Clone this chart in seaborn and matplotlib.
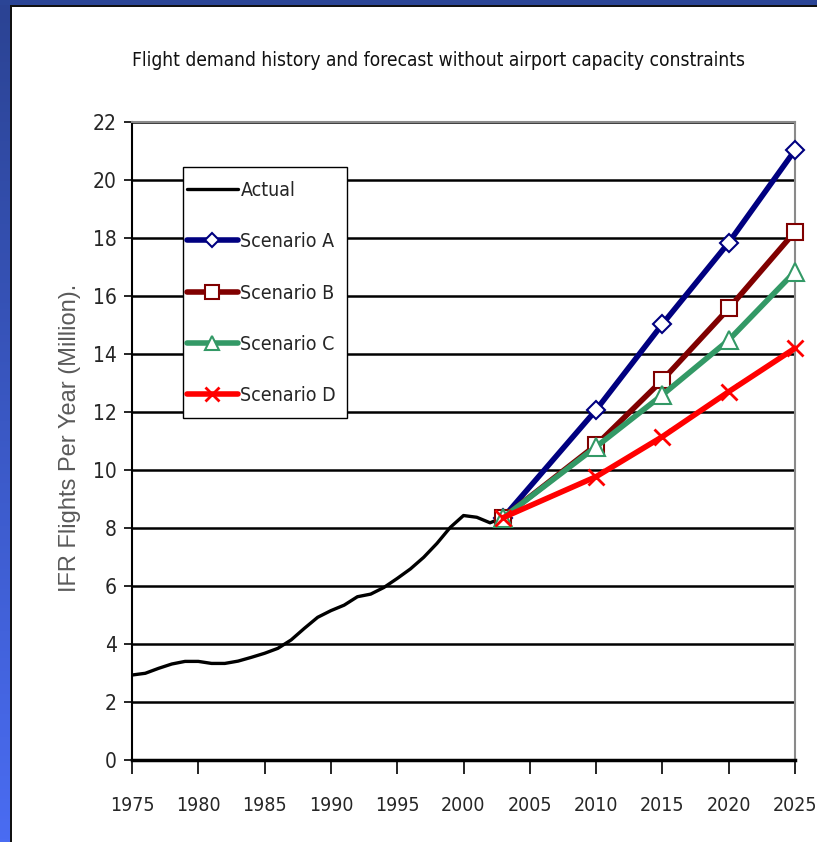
import numpy as np
import pandas as pd
import matplotlib
matplotlib.use("Agg")
import matplotlib.pyplot as plt
import seaborn as sns
from matplotlib.patches import Rectangle
from matplotlib.colors import LinearSegmentedColormap

# Historical IFR flights (millions per year)
actual_years = list(range(1975, 2004))
actual_flights = [2.93, 2.99, 3.16, 3.31, 3.40, 3.40, 3.33, 3.33, 3.41, 3.54,
                  3.68, 3.85, 4.14, 4.54, 4.92, 5.15, 5.34, 5.63, 5.72, 5.95,
                  6.26, 6.59, 6.99, 7.47, 8.02, 8.43, 8.37, 8.18, 8.36]

# Forecast scenarios
scenario_years = [2003, 2010, 2015, 2020, 2025]
scenario_a = [8.36, 12.07, 15.03, 17.84, 21.03]
scenario_b = [8.36, 10.86, 13.10, 15.57, 18.22]
scenario_c = [8.36, 10.80, 12.59, 14.48, 16.84]
scenario_d = [8.36, 9.77, 11.15, 12.70, 14.20]

x_ticks = list(range(1975, 2030, 5))
y_ticks = list(range(0, 24, 2))

title = "Flight demand history and forecast without airport capacity constraints"
y_label = "IFR Flights Per Year (Million)."

sns.set_style("white")
plt.rcParams["font.family"] = ["DejaVu Sans"]
plt.rcParams["font.stretch"] = "condensed"

W, H = 817, 842
fig = plt.figure(figsize=(W / 100, H / 100), dpi=100)
fig.patch.set_facecolor("white")


def px_fig(x, y):
    """Pixel position (from top-left) to figure fraction."""
    return x / W, 1 - y / H


# Blue slide frame: gradient strip on the left, dark band on top
cmap = LinearSegmentedColormap.from_list("frame", ["#2b4393", "#3a58c4", "#4a6cf2"])
frame_ax = fig.add_axes([0, 0, 10 / W, 1])
frame_ax.imshow(np.linspace(0, 1, 256).reshape(-1, 1), aspect="auto", cmap=cmap)
frame_ax.set_axis_off()
fig.add_artist(Rectangle((0, 1 - 5 / H), 1, 5 / H, transform=fig.transFigure,
                         facecolor="#2b4596", edgecolor="none", zorder=5))
fig.add_artist(Rectangle((10 / W, 0), 1.5 / W, 1 - 5 / H, transform=fig.transFigure,
                         facecolor="#111111", edgecolor="none", zorder=5))
fig.add_artist(Rectangle((10 / W, 1 - 6.5 / H), 1 - 10 / W, 1.5 / H, transform=fig.transFigure,
                         facecolor="#111111", edgecolor="none", zorder=5))

# Plot area
AX_L, AX_R, AX_T, AX_B = 132, 795, 122, 760
ax = fig.add_axes([AX_L / W, (H - AX_B) / H, (AX_R - AX_L) / W, (AX_B - AX_T) / H])
ax.set_facecolor("white")


def px_ax(x, y):
    """Pixel position (from top-left) to axes fraction."""
    return (x - AX_L) / (AX_R - AX_L), (AX_B - y) / (AX_B - AX_T)


sns.lineplot(x=actual_years, y=actual_flights, ax=ax, color="black",
             linewidth=2.4, label="Actual", zorder=4)

series = [
    ("Scenario A", scenario_a, "#000080", "D", 9, 1.5),
    ("Scenario B", scenario_b, "#800000", "s", 12, 1.5),
    ("Scenario C", scenario_c, "#339966", "^", 13, 1.5),
    ("Scenario D", scenario_d, "#ff0000", "x", 12, 2.0),
]
for name, vals, col, mk, ms, mew in series:
    sns.lineplot(x=scenario_years, y=vals, ax=ax, color=col, linewidth=4.0,
                 marker=mk, markersize=ms, markerfacecolor="white",
                 markeredgecolor=col, markeredgewidth=mew, label=name,
                 clip_on=False, zorder=5)

ax.set_xlim(1975, 2025)
ax.set_ylim(0, 22)
ax.set_xticks(x_ticks)
ax.set_yticks(y_ticks)
ax.set_xticklabels([str(t) for t in x_ticks], fontsize=14)
ax.set_yticklabels([str(t) for t in y_ticks], fontsize=15)

# Horizontal gridlines
ax.yaxis.grid(True, color="black", linewidth=1.8)
ax.xaxis.grid(False)
ax.set_axisbelow(True)

for side in ("top", "right"):
    ax.spines[side].set_color("#8a8a8a")
    ax.spines[side].set_linewidth(1.5)
ax.spines["left"].set_color("black")
ax.spines["left"].set_linewidth(1.5)
ax.spines["bottom"].set_color("black")
ax.spines["bottom"].set_linewidth(2.5)

ax.tick_params(axis="x", direction="out", length=10, width=1.2, color="black",
               pad=16, bottom=True)
ax.tick_params(axis="y", direction="out", length=6, width=1.2, color="black",
               pad=5, left=True)
ax.set_xlabel("")
ax.set_ylabel("")

# Axis title and chart title
fig.text(*px_fig(70, 438), y_label, rotation=90, ha="center", va="center",
         fontsize=17, color="#5a5a5a", family=["Liberation Sans", "DejaVu Sans"],
         fontstretch="normal")
fig.text(*px_fig(438, 60), title, ha="center", va="center", fontsize=13.8,
         color="#111111")

# Legend: box drawn separately so the padding can differ per side
bx0, by0 = px_ax(183, 418)
bx1, by1 = px_ax(347, 167)
ax.add_patch(Rectangle((bx0, by0), bx1 - bx0, by1 - by0, transform=ax.transAxes,
                       facecolor="white", edgecolor="black", linewidth=1.0,
                       zorder=6, clip_on=False))
leg = ax.legend(loc="upper left", bbox_to_anchor=px_ax(187, 181),
                fontsize=14, frameon=False, handlelength=2.6, handletextpad=0.15,
                labelspacing=1.66, borderpad=0, borderaxespad=0, numpoints=1)
leg.set_zorder(7)
for h in leg.legend_handles:
    h.set_markersize(h.get_markersize() * 0.8)

fig.savefig("out.png", dpi=100, facecolor="white")
